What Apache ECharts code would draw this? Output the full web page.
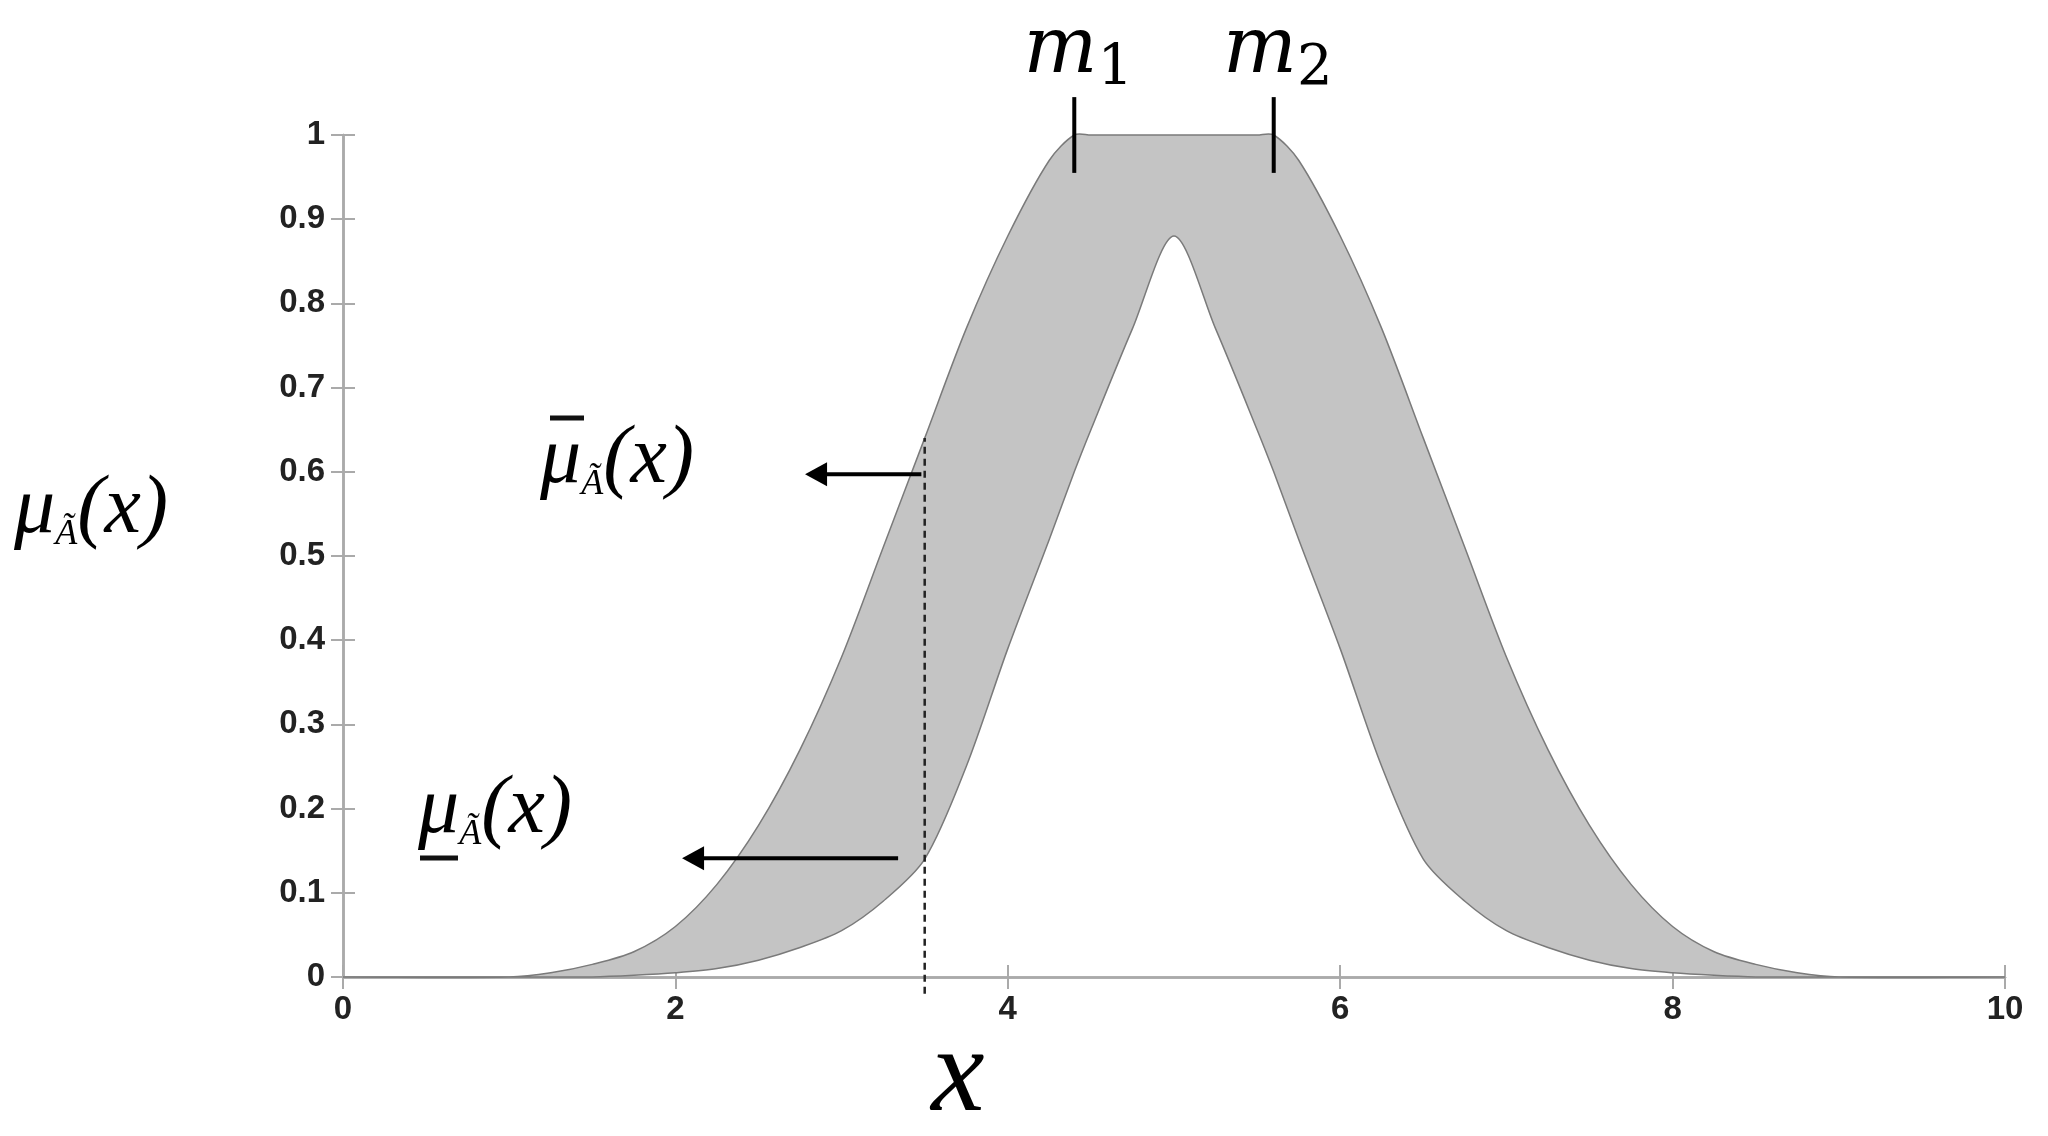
<!DOCTYPE html>
<html><head><meta charset="utf-8">
<script src="https://cdn.jsdelivr.net/npm/echarts@6/dist/echarts.min.js"></script>
<style>html,body{margin:0;padding:0;background:#fff}#c{width:2048px;height:1136px}</style>
</head><body><div id="c"></div>
<script>
var xs    = [0,1,1.25,1.5,1.75,2,2.25,2.5,2.75,3,3.25,3.5,3.75,4,4.25,4.4,4.5,4.75,5,5.25,5.5,5.6,5.75,6,6.25,6.5,6.75,7,7.25,7.5,7.75,8,8.25,8.5,8.75,9,10];
var upper = [0,0,0.005,0.015,0.03,0.06,0.11,0.18,0.27,0.38,0.51,0.64,0.77,0.88,0.97,1,1,1,1,1,1,1,0.97,0.88,0.77,0.64,0.51,0.38,0.27,0.18,0.11,0.06,0.03,0.015,0.005,0,0];
var lower = [0,0,0,0,0.002,0.005,0.01,0.02,0.035,0.055,0.09,0.14,0.25,0.39,0.52,0.6,0.65,0.77,0.88,0.77,0.65,0.6,0.52,0.39,0.25,0.14,0.09,0.055,0.035,0.02,0.01,0.005,0.002,0,0,0,0];
var xTicks = [0,2,4,6,8,10];
var yTicks = [0,0.1,0.2,0.3,0.4,0.5,0.6,0.7,0.8,0.9,1];
var m1 = 4.4, m2 = 5.6, xCut = 3.5;

var chart = echarts.init(document.getElementById('c'));
var lab = {fontFamily:'Liberation Sans, Arial', fontWeight:'bold', fontSize:33, color:'#222'};
var axBase = {type:'value', min:0, axisLine:{show:true,lineStyle:{color:'#aaa',width:2.5}}, axisTick:{inside:true,length:12,lineStyle:{color:'#aaa',width:2}}, splitLine:{show:false}};
var rows = xs.map(function(x,i){return [x,lower[i],upper[i]];});
chart.setOption({
  animation:false,
  grid:{left:343,right:43,top:135,bottom:159},
  xAxis:[
    Object.assign({}, axBase, {max:10, interval:2, position:'bottom', axisLabel:Object.assign({margin:16,formatter:function(v){return xTicks.indexOf(v)>=0?String(v):'';}},lab)}),
    Object.assign({}, axBase, {max:10, interval:2, position:'top', axisLabel:{show:false}})
  ],
  yAxis:[
    Object.assign({}, axBase, {max:1, interval:0.1, position:'left', axisLabel:Object.assign({margin:18,formatter:function(v){return v===1?'1':(v===0?'0':v.toFixed(1));}},lab)}),
    Object.assign({}, axBase, {max:1, interval:0.1, position:'right', axisLabel:{show:false}})
  ],
  series:[
    {type:'custom', data:rows, encode:{x:0,y:[1,2]}, z:1,
     renderItem:function(params,api){
       if(params.dataIndex!==0) return null;
       var pts=[];
       rows.forEach(function(r){pts.push(api.coord([r[0],r[2]]));});
       for(var i=rows.length-1;i>=0;i--) pts.push(api.coord([rows[i][0],rows[i][1]]));
       return {type:'polygon',shape:{points:pts,smooth:0.3},style:{fill:'#c4c4c4',stroke:'#7a7a7a',lineWidth:1.5}};
     }}
  ]
});
function P(x,y){return chart.convertToPixel({gridIndex:0},[x,y]);}
var serif = 'Liberation Serif, DejaVu Serif, serif';
function mu(){return {rich:{
  a:{fontFamily:serif,fontStyle:'italic',fontSize:82,color:'#111'},
  s:{fontFamily:serif,fontStyle:'italic',fontSize:36,color:'#111',padding:[50,0,0,0]}
}, text:'{a|μ}{s|Ã}{a|(x)}', verticalAlign:'middle'};}
var g=[];
[m1,m2].forEach(function(m,i){
  var a=P(m,0.955), b=P(m,1.045);
  g.push({type:'line',shape:{x1:a[0],y1:a[1],x2:b[0],y2:b[1]},style:{stroke:'#000',lineWidth:4},z:10});
  g.push({type:'text',x:a[0]+4,y:52,style:{rich:{m:{fontFamily:'DejaVu Serif, serif',fontStyle:'italic',fontSize:78,color:'#000'},s:{fontFamily:'DejaVu Serif, serif',fontSize:56,color:'#000',padding:[34,0,0,0]}},text:'{m|m}{s|'+(i+1)+'}',align:'center',verticalAlign:'middle'},z:10});
});
var d1=P(xCut,-0.02), d2=P(xCut,0.64);
g.push({type:'line',shape:{x1:d1[0],y1:d1[1],x2:d2[0],y2:d2[1]},style:{stroke:'#222',lineWidth:2.5,lineDash:[7,5]},z:10});
function arrow(xa,xb,y){
  var a=P(xa,y), b=P(xb,y);
  g.push({type:'line',shape:{x1:a[0],y1:a[1],x2:b[0]+14,y2:b[1]},style:{stroke:'#000',lineWidth:4},z:10});
  g.push({type:'polygon',shape:{points:[[b[0],b[1]],[b[0]+22,b[1]-12],[b[0]+22,b[1]+12]]},style:{fill:'#000'},z:10});
}
arrow(xCut-0.02,2.78,0.597);
arrow(3.34,2.04,0.141);
g.push({type:'text',x:540,y:460,z:10,style:mu()});
g.push({type:'line',shape:{x1:550,y1:418,x2:584,y2:418},style:{stroke:'#111',lineWidth:5},z:10});
g.push({type:'text',x:418,y:810,z:10,style:mu()});
g.push({type:'line',shape:{x1:420,y1:858,x2:458,y2:858},style:{stroke:'#111',lineWidth:5},z:10});
g.push({type:'text',x:14,y:510,z:10,style:mu()});
g.push({type:'text',x:958,y:1078,z:10,style:{text:'x',fontFamily:serif,fontStyle:'italic',fontSize:120,color:'#111',align:'center',verticalAlign:'middle'}});
chart.setOption({graphic:g});
</script></body></html>
